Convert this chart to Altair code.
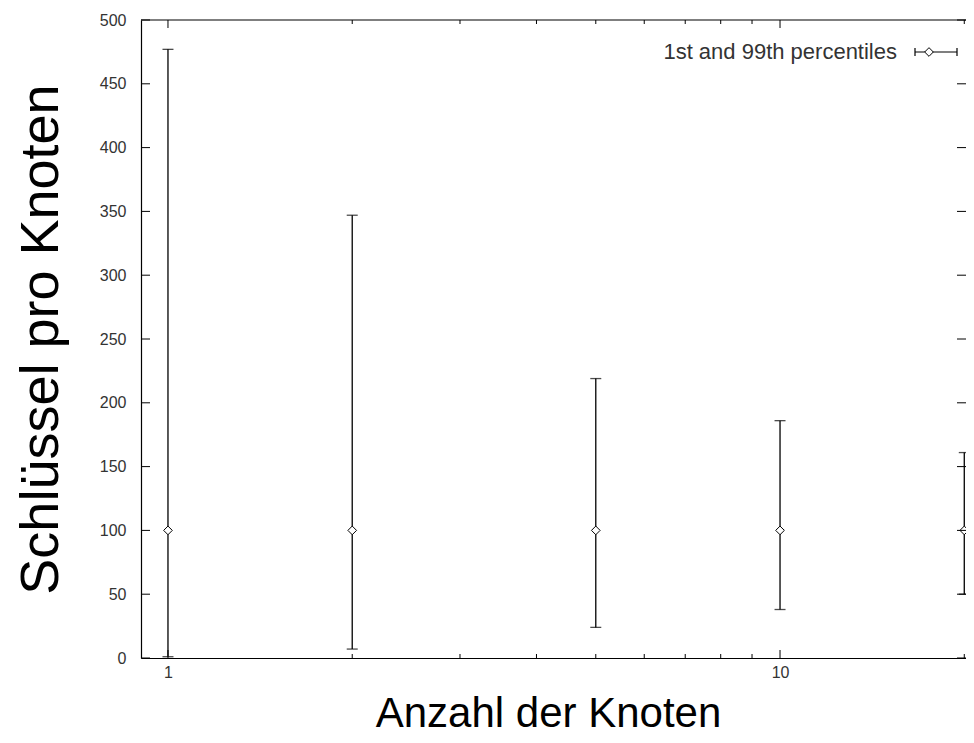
import altair as alt
import pandas as pd

# ---- data ----
nodes = [1, 2, 5, 10, 20]
keys_mid = [100, 100, 100, 100, 100]
pct_1 = [1, 7, 24, 38, 50]
pct_99 = [477, 347, 219, 186, 161]

y_tick_values = list(range(0, 501, 50))
x_major_ticks = [1, 10]
x_minor_ticks = [2, 3, 4, 5, 6, 7, 8, 9, 20]

legend_label = "1st and 99th percentiles"
x_title = "Anzahl der Knoten"
y_title = "Schlüssel pro Knoten"

W, H = 825, 638
FONT = "Liberation Sans"

df = pd.DataFrame({"n": nodes, "m": keys_mid, "lo": pct_1, "hi": pct_99})
df_y = pd.DataFrame({"v": y_tick_values})
df_xmaj = pd.DataFrame({"v": x_major_ticks})
df_xmin = pd.DataFrame({"v": x_minor_ticks})
df_one = pd.DataFrame({"k": [0]})

xs = alt.Scale(type="log", domain=[0.9035, 20.13], nice=False)
ys = alt.Scale(domain=[0, 500], nice=False, zero=False)

x_axis = alt.Axis(
    values=x_major_ticks, format="d", title=x_title, ticks=False, grid=False,
    domain=True, domainColor="black", domainWidth=1.2,
    labelPadding=6, labelFontSize=16, labelColor="#333", labelFont=FONT,
    titleFont=FONT, titleFontSize=42, titleFontWeight="normal", titleColor="black",
    titleX=407, titleY=68, titleAlign="center", titleBaseline="alphabetic")
y_axis = alt.Axis(
    values=y_tick_values, title=y_title, ticks=False, grid=False,
    domain=True, domainColor="black", domainWidth=1.2,
    labelPadding=15, labelFontSize=16, labelColor="#333", labelFont=FONT,
    titleFont=FONT, titleFontSize=54, titleFontWeight="normal", titleColor="black",
    titleX=-100, titleY=319, titleAngle=270, titleAlign="center", titleBaseline="middle")


def X(f):
    return alt.X(f, scale=xs, axis=x_axis)


def Y(f):
    return alt.Y(f, scale=ys, axis=y_axis)


bars = alt.Chart(df).mark_rule(color="black", strokeWidth=1.3).encode(
    x=X("n:Q"), y=Y("lo:Q"), y2="hi:Q")

cap_lo = alt.Chart(df).mark_tick(orient="horizontal", size=11, thickness=1.3, color="black").encode(
    x=X("n:Q"), y=Y("lo:Q"))
cap_hi = alt.Chart(df).mark_tick(orient="horizontal", size=11, thickness=1.3, color="black").encode(
    x=X("n:Q"), y=Y("hi:Q"))

pts = alt.Chart(df).mark_point(shape="diamond", size=75, fill="white", filled=False,
                               stroke="black", strokeWidth=1, opacity=1).encode(
    x=X("n:Q"), y=Y("m:Q"))

tick_style = dict(color="black", strokeWidth=1)
yt_left = alt.Chart(df_y).mark_rule(**tick_style).encode(
    y=Y("v:Q"), x=alt.value(0), x2=alt.value(9))
yt_right = alt.Chart(df_y).mark_rule(**tick_style).encode(
    y=Y("v:Q"), x=alt.value(W - 9), x2=alt.value(W))
xt_bot_maj = alt.Chart(df_xmaj).mark_rule(**tick_style).encode(
    x=X("v:Q"), y=alt.value(H - 8), y2=alt.value(H))
xt_top_maj = alt.Chart(df_xmaj).mark_rule(**tick_style).encode(
    x=X("v:Q"), y=alt.value(0), y2=alt.value(8))
xt_bot_min = alt.Chart(df_xmin).mark_rule(**tick_style).encode(
    x=X("v:Q"), y=alt.value(H - 4), y2=alt.value(H))
xt_top_min = alt.Chart(df_xmin).mark_rule(**tick_style).encode(
    x=X("v:Q"), y=alt.value(0), y2=alt.value(4))

top_line = alt.Chart(df_one).mark_rule(color="black", strokeWidth=1.2).encode(
    x=alt.value(0), x2=alt.value(W), y=alt.value(0))

# legend key
leg_text = alt.Chart(df_one).mark_text(align="right", baseline="middle", font=FONT,
                                       fontSize=22, color="#333").encode(
    x=alt.value(756), y=alt.value(32), text=alt.value(legend_label))
leg_line = alt.Chart(df_one).mark_rule(color="black", strokeWidth=1.2).encode(
    x=alt.value(774), x2=alt.value(816), y=alt.value(32))
leg_cap1 = alt.Chart(df_one).mark_rule(color="black", strokeWidth=1.2).encode(
    x=alt.value(774), y=alt.value(28), y2=alt.value(36))
leg_cap2 = alt.Chart(df_one).mark_rule(color="black", strokeWidth=1.2).encode(
    x=alt.value(816), y=alt.value(28), y2=alt.value(36))
leg_pt = alt.Chart(df_one).mark_point(shape="diamond", size=75, fill="white", filled=False,
                                      stroke="black", strokeWidth=1, opacity=1).encode(
    x=alt.value(788), y=alt.value(32))

chart = alt.layer(
    bars, cap_lo, cap_hi, pts,
    yt_left, yt_right, xt_bot_maj, xt_top_maj, xt_bot_min, xt_top_min, top_line,
    leg_text, leg_line, leg_cap1, leg_cap2, leg_pt,
).properties(
    width=W, height=H,
    autosize=alt.AutoSizeParams(type="none"),
    padding={"left": 133, "top": 12, "right": 0, "bottom": 77},
    background="white",
).configure_view(stroke=None).configure_axis(grid=False)

chart.save("out.html", embed_options={"renderer": "svg", "actions": False})
